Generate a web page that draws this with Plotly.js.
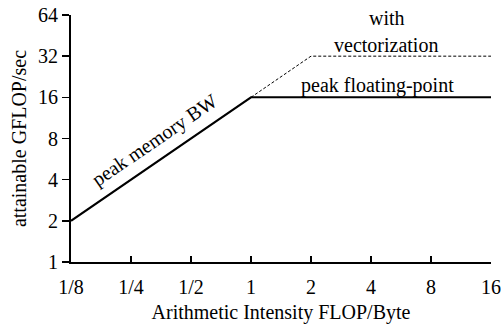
<!DOCTYPE html>
<html>
<head>
<meta charset="utf-8">
<script src="https://cdn.plot.ly/plotly-3.0.1.min.js"></script>
<style>html,body{margin:0;padding:0;background:#fff;}#chart{width:501px;height:324px;}</style>
</head>
<body>
<div id="chart"></div>
<script>
// Roofline data
const roofX = [0.125, 1, 16];
const roofY = [2, 16, 16];
const vecX = [1, 2, 16];
const vecY = [16, 32, 32];
const xTickVals = [0.125, 0.25, 0.5, 1, 2, 4, 8, 16];
const xTickText = ['1/8', '1/4', '1/2', '1', '2', '4', '8', '16'];
const yTickVals = [1, 2, 4, 8, 16, 32, 64];
const yTickText = ['1', '2', '4', '8', '16', '32', '64'];

const L = Math.log10;
const FAM = 'Liberation Serif';
const f = (s) => ({family: FAM, size: s, color: '#000'});

const traces = [
  {x: vecX, y: vecY, mode: 'lines', line: {color: '#000', width: 1, dash: '3px,2px'}, hoverinfo: 'skip', cliponaxis: false},
  {x: roofX, y: roofY, mode: 'lines', line: {color: '#000', width: 2}, hoverinfo: 'skip', cliponaxis: false}
];

const layout = {
  width: 501, height: 324,
  margin: {l: 71, r: 10, t: 15, b: 62},
  paper_bgcolor: '#fff', plot_bgcolor: '#fff',
  showlegend: false,
  font: f(20),
  xaxis: {
    type: 'log', range: [L(0.125), L(16)],
    tickvals: xTickVals, ticktext: xTickText,
    ticks: 'inside', ticklen: 6, tickwidth: 1.5, tickcolor: '#000',
    ticklabelstandoff: 6,
    showline: true, linecolor: '#000', linewidth: 2,
    showgrid: false, zeroline: false,
    tickfont: f(20),
    title: {text: 'Arithmetic Intensity FLOP/Byte', font: f(20), standoff: 8}
  },
  yaxis: {
    type: 'log', range: [0, L(64)],
    tickvals: yTickVals, ticktext: yTickText,
    ticks: 'outside', ticklen: 7, tickwidth: 1.5, tickcolor: '#000',
    showline: true, linecolor: '#000', linewidth: 2,
    showgrid: false, zeroline: false,
    tickfont: f(20),
    title: {text: 'attainable GFLOP/sec', font: f(20), standoff: 6}
  },
  annotations: [
    {x: L(0.338), y: L(6.93), xref: 'x', yref: 'y', text: 'peak memory BW', showarrow: false,
     textangle: -34.3, font: f(20), xanchor: 'center', yanchor: 'middle', yshift: 7, xshift: -3},
    {x: L(4.29), y: L(19.4), xref: 'x', yref: 'y', text: 'peak floating-point', showarrow: false,
     font: f(20), xanchor: 'center', yanchor: 'middle'},
    {x: L(4.76), y: L(38.6), xref: 'x', yref: 'y', text: 'vectorization', showarrow: false,
     font: f(20), xanchor: 'center', yanchor: 'middle'},
    {x: L(4.79), y: L(60.8), xref: 'x', yref: 'y', text: 'with', showarrow: false,
     font: f(20), xanchor: 'center', yanchor: 'middle'}
  ]
};

Plotly.newPlot('chart', traces, layout, {displayModeBar: false, staticPlot: true});
</script>
</body>
</html>
